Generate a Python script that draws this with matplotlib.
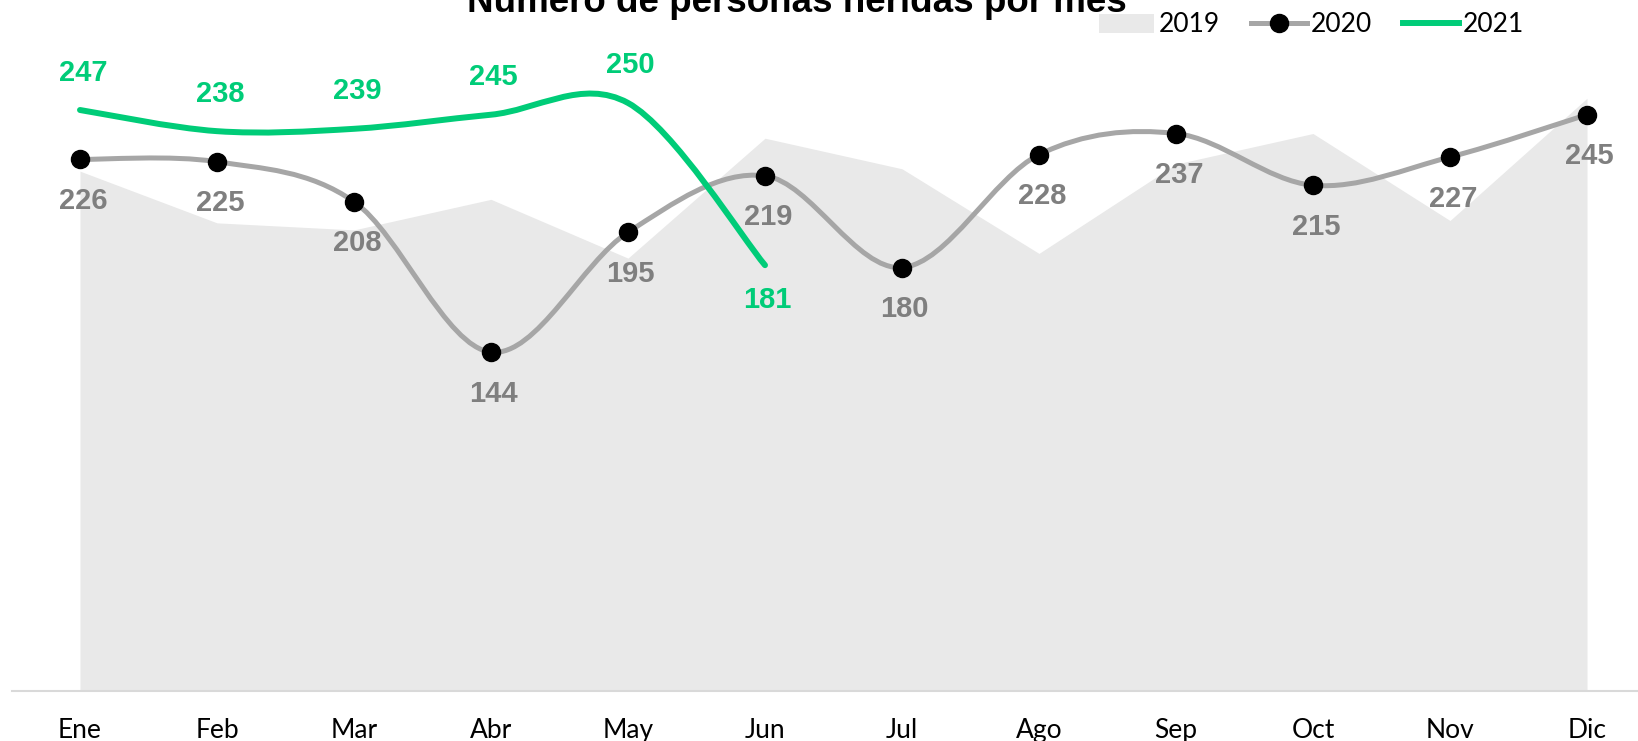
import numpy as np
import matplotlib
matplotlib.use('Agg')
import matplotlib.pyplot as plt
from matplotlib.path import Path
from matplotlib.patches import PathPatch, Patch
from matplotlib.lines import Line2D

# Data
months = ['Ene', 'Feb', 'Mar', 'Abr', 'May', 'Jun',
          'Jul', 'Ago', 'Sep', 'Oct', 'Nov', 'Dic']
v2019 = [221, 199, 196, 209, 184, 235, 222, 186, 224, 237, 200, 252]
v2020 = [226, 225, 208, 144, 195, 219, 180, 228, 237, 215, 227, 245]
v2021 = [247, 238, 239, 245, 250, 181]

c2019 = '#E9E9E9'
c2020 = '#A6A6A6'
c2021 = '#00CC78'
lab2020 = '#7F7F7F'


def smooth_path(xs, ys):
    # Excel-like smoothed line (cubic bezier, catmull-rom control points)
    pts = np.column_stack([xs, ys]).astype(float)
    n = len(pts)
    verts = [pts[0]]
    codes = [Path.MOVETO]
    for i in range(n - 1):
        p0 = pts[max(i - 1, 0)]
        p1 = pts[i]
        p2 = pts[i + 1]
        p3 = pts[min(i + 2, n - 1)]
        verts += [p1 + (p2 - p0) / 6, p2 - (p3 - p1) / 6, p2]
        codes += [Path.CURVE4] * 3
    return Path(verts, codes)


fig = plt.figure(figsize=(16.38, 7.41), dpi=100)
ax = fig.add_axes([11.5 / 1638, 1 - 690.7 / 741, (1655.5 - 11.5) / 1638, 690.7 / 741])
ax.set_xlim(-0.5, 11.5)
ax.set_ylim(0, 690.7 / 2.351)

x = np.arange(len(months))
x21 = np.arange(len(v2021))

# 2019 area
ax.fill_between(x, v2019, 0, color=c2019, linewidth=0, zorder=1)

# 2020 smoothed line + markers
ax.add_patch(PathPatch(smooth_path(x, v2020), fill=False, edgecolor=c2020,
                       linewidth=3.6, capstyle='round', zorder=2))
ax.plot(x, v2020, linestyle='none', marker='o', markersize=13,
        color='black', zorder=3)

# 2021 smoothed line
ax.add_patch(PathPatch(smooth_path(x21, v2021), fill=False, edgecolor=c2021,
                       linewidth=4.3, capstyle='round', zorder=4))

lbl_font = dict(family='Liberation Sans', fontsize=21, fontweight='bold')
for xi, v in zip(x, v2020):
    ax.annotate(str(v), (xi, v), xytext=(2, -30), textcoords='offset points',
                ha='center', va='center', color=lab2020, zorder=5, **lbl_font)
for xi, v in zip(x21, v2021):
    dy = -25 if xi == len(v2021) - 1 else 27
    ax.annotate(str(v), (xi, v), xytext=(2, dy), textcoords='offset points',
                ha='center', va='center', color=c2021, zorder=5, **lbl_font)

# axes styling
for s in ['top', 'left', 'right']:
    ax.spines[s].set_visible(False)
ax.spines['bottom'].set_color('#D9D9D9')
ax.spines['bottom'].set_linewidth(1.5)
ax.set_yticks([])
ax.set_xticks(x)
ax.set_xticklabels(months, family='Lato', fontsize=19)
ax.tick_params(axis='x', length=0, pad=20)

# legend
handles = [Patch(facecolor=c2019, edgecolor='none'),
           Line2D([], [], color=c2020, linewidth=3.6, marker='o',
                  markersize=13, markerfacecolor='black', markeredgecolor='black'),
           Line2D([], [], color=c2021, linewidth=4.3)]
ax.legend(handles, ['2019', '2020', '2021'], loc='center',
          bbox_to_anchor=(1311.5 / 1638, 1 - 25 / 741),
          bbox_transform=fig.transFigure, ncol=3, frameon=False,
          borderpad=0, handlelength=2.1, handletextpad=0.15,
          columnspacing=1.2, prop=dict(family='Lato', size=19))

# title (cut off at top as in the original)
fig.text(797 / 1638, 1 - 12 / 741, 'Número de personas heridas por mes',
         ha='center', va='baseline', fontsize=26.5, fontweight='bold',
         family='Liberation Sans')

fig.savefig('out.png', dpi=100)
